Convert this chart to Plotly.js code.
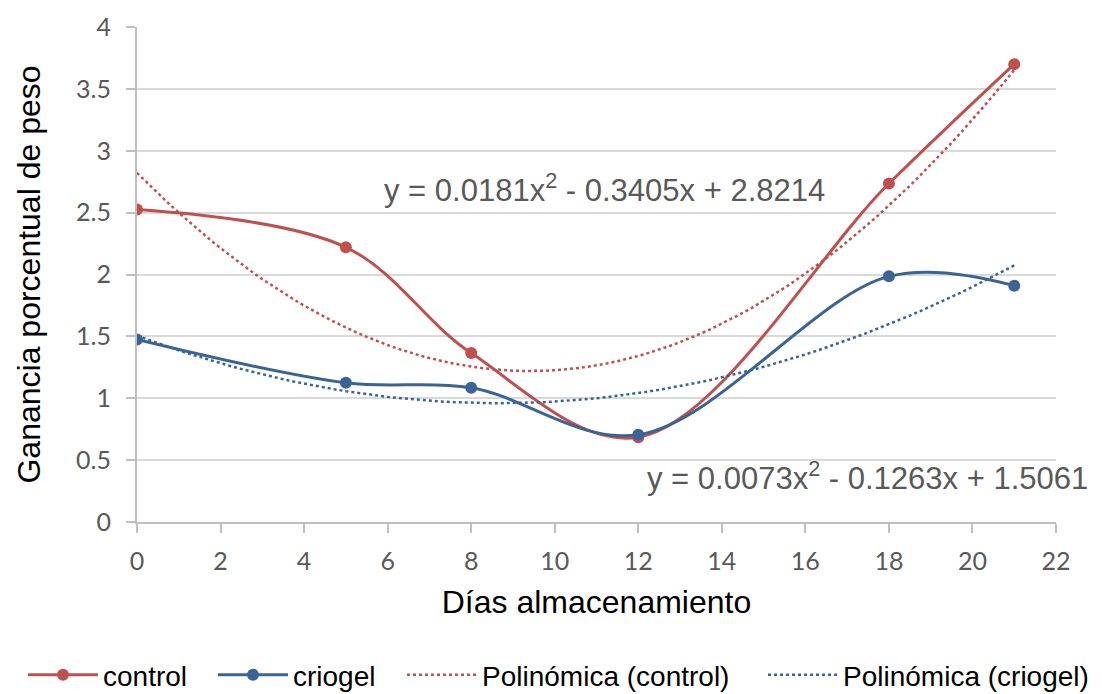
<!DOCTYPE html>
<html>
<head>
<meta charset="utf-8">
<script src="https://cdn.plot.ly/plotly-3.0.1.min.js"></script>
<style>html,body{margin:0;padding:0;background:#fff;}#chart{width:1102px;height:694px;}</style>
</head>
<body>
<div id="chart"></div>
<script>
var days = [0, 5, 8, 12, 18, 21];
var control = [2.525, 2.22, 1.365, 0.685, 2.735, 3.70];
var criogel = [1.475, 1.125, 1.085, 0.705, 1.985, 1.91];
// Trendline coefficients as shown on the chart: [a2, a1, a0]
var polyControl = [0.0181, -0.3405, 2.8214];
var polyCriogel = [0.0073, -0.1263, 1.5061];
var eqControl = "y = 0.0181x<sup>2</sup> - 0.3405x + 2.8214";
var eqCriogel = "y = 0.0073x<sup>2</sup> - 0.1263x + 1.5061";
var xTicks = [0, 2, 4, 6, 8, 10, 12, 14, 16, 18, 20, 22];

function evalPoly(c, xs) { return xs.map(function (x) { return c[0] * x * x + c[1] * x + c[2]; }); }
var trendX = [];
for (var i = 0; i <= 84; i++) trendX.push(i * 0.25);

var red = "#C0504D", blue = "#3A6496";
var data = [
  {x: days, y: control, name: "control", mode: "lines+markers", type: "scatter", legend: "legend",
   line: {color: red, width: 3, shape: "spline", smoothing: 1}, marker: {color: red, size: 12}},
  {x: days, y: criogel, name: "criogel", mode: "lines+markers", type: "scatter", legend: "legend2",
   line: {color: blue, width: 3, shape: "spline", smoothing: 1}, marker: {color: blue, size: 12}},
  {x: trendX, y: evalPoly(polyControl, trendX), name: "Polinómica (control)", mode: "lines", type: "scatter", legend: "legend3",
   line: {color: red, width: 2.5, dash: "dot"}},
  {x: trendX, y: evalPoly(polyCriogel, trendX), name: "Polinómica (criogel)", mode: "lines", type: "scatter", legend: "legend4",
   line: {color: blue, width: 2.5, dash: "dot"}}
];

function leg(px) {
  return {orientation: "h", xref: "container", yref: "container", x: px / 1102, xanchor: "left",
    y: 1 - 675 / 694, yanchor: "middle", bgcolor: "rgba(0,0,0,0)",
    font: {family: "Liberation Sans, Arial", size: 28, color: "#000"}, itemwidth: 70};
}

var layout = {
  width: 1102, height: 694,
  margin: {l: 137, r: 46, t: 27, b: 172},
  paper_bgcolor: "#fff", plot_bgcolor: "#fff",
  showlegend: true,
  legend: leg(23), legend2: leg(213), legend3: leg(402), legend4: leg(763),
  xaxis: {range: [0, 22], tickvals: xTicks, showgrid: false, zeroline: false, automargin: false,
    showline: true, linecolor: "#bfbfbf", linewidth: 2, ticks: "outside", ticklen: 9, tickcolor: "#bfbfbf", tickwidth: 2,
    tickfont: {family: "Lato, sans-serif", size: 25, color: "#595959"}, ticklabelstandoff: 7,
    title: {text: "Días almacenamiento", font: {family: "Liberation Sans, Arial", size: 32, color: "#000"}, standoff: 17}},
  yaxis: {range: [0, 4], dtick: 0.5, showgrid: true, gridcolor: "#d9d9d9", gridwidth: 2, zeroline: false, automargin: false,
    showline: true, linecolor: "#bfbfbf", linewidth: 2, ticks: "outside", ticklen: 9, tickcolor: "#bfbfbf", tickwidth: 2,
    tickfont: {family: "Lato, sans-serif", size: 25, color: "#595959"}, ticklabelstandoff: 10,
    title: {text: "Ganancia porcentual de peso", font: {family: "Liberation Sans, Arial", size: 32, color: "#000"}, standoff: 26}},
  annotations: [
    {x: 11.18, y: 2.70, xref: "x", yref: "y", text: eqControl, showarrow: false, xanchor: "center", yanchor: "middle",
     font: {family: "Liberation Sans, Arial", size: 31, color: "#595959"}},
    {x: 17.48, y: 0.37, xref: "x", yref: "y", text: eqCriogel, showarrow: false, xanchor: "center", yanchor: "middle",
     font: {family: "Liberation Sans, Arial", size: 31, color: "#595959"}}
  ]
};
Plotly.newPlot("chart", data, layout, {displayModeBar: false, staticPlot: true});
</script>
</body>
</html>
